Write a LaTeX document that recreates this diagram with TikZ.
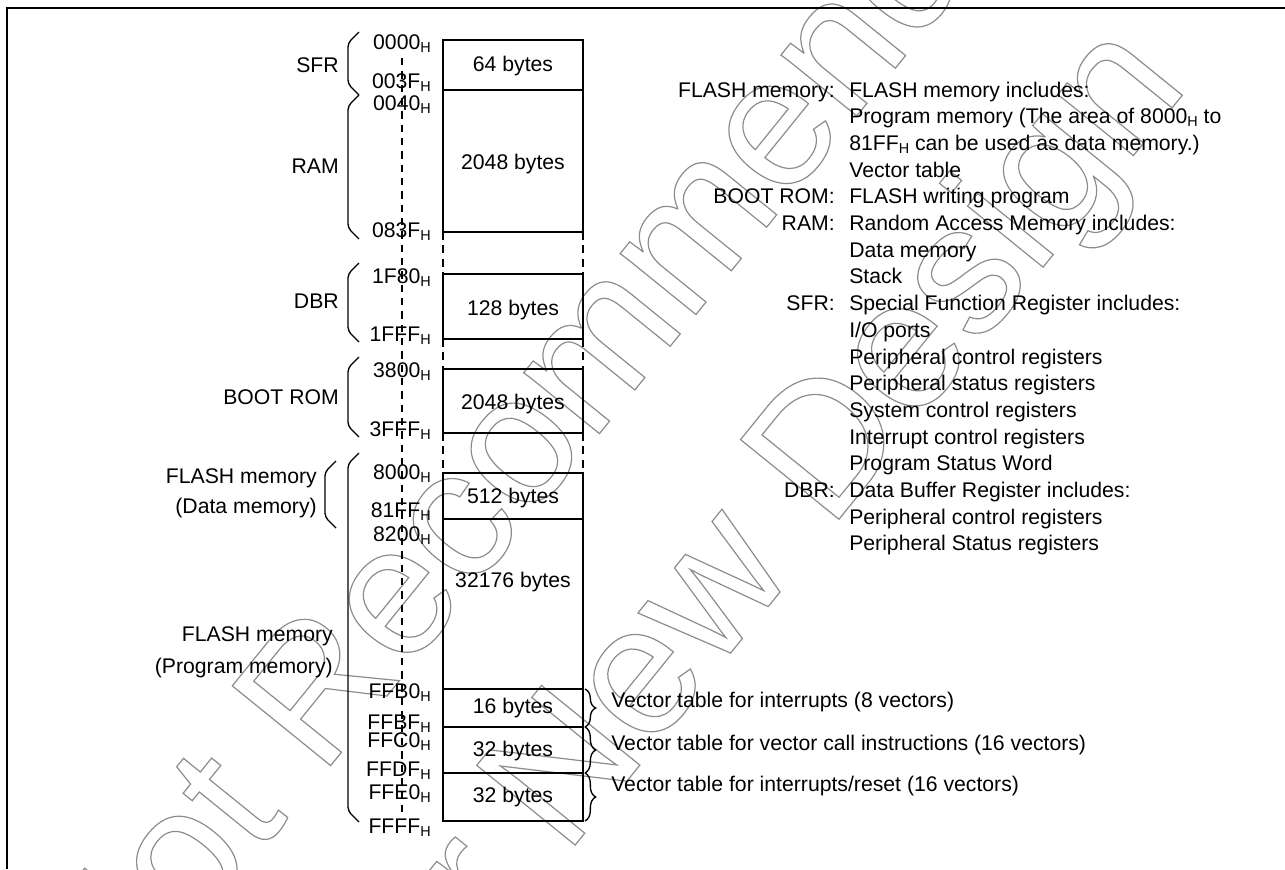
\documentclass[tikz,border=0pt]{standalone}
\usepackage{fontspec}
\setmainfont{Liberation Sans}
\usetikzlibrary{decorations.pathreplacing}
\newcommand{\hx}{\raisebox{-2.2pt}{\fontsize{10.8pt}{10.8pt}\selectfont H}}
\newcommand{\lbrk}[3]{\draw[brk] (#1+11,#2) -- (#1,#2+11) -- (#1,#3-11) -- (#1+11,#3);}
\begin{document}
\begin{tikzpicture}[x=0.75pt,y=-0.75pt,
  font=\fontsize{15.9pt}{19pt}\selectfont,
  frame/.style={line width=1.4pt},
  mem/.style={line width=1.3pt},
  sidedash/.style={line width=1pt,dash pattern=on 6pt off 4pt},
  addrdash/.style={line width=1pt,dash pattern=on 5.5pt off 4.5pt},
  brk/.style={line width=1pt,rounded corners=3pt},
  rbrace/.style={line width=1pt,decorate,decoration={brace,amplitude=8pt}},
  addr/.style={anchor=base east,inner sep=0pt},
  lab/.style={anchor=base east,inner sep=0pt},
  desc/.style={anchor=base west,inner sep=0pt},
  size/.style={inner sep=0pt},
  wmark/.style={rotate=51,align=center,inner sep=0pt,text=black!45,
    font=\fontsize{138pt}{180pt}\selectfont}]
\useasboundingbox (0,0) rectangle (1285,869);

% watermark (outlined text)
\node[wmark] (wm) at (664,469) {\special{pdf:literal direct 1 Tr 0.9 w}Not Recommended\\for New Design\special{pdf:literal direct 0 Tr}};

% frame
\draw[frame] (7,869) -- (7,8) -- (1285,8);

% address dashed line
\coordinate (atop) at (402,58);
\coordinate (abot) at (402,815);
\draw[addrdash] (atop) -- (abot);

% memory blocks
\draw[mem] (443,40) rectangle (583,90);
\draw[mem] (443,90) rectangle (583,232);
\draw[mem] (443,274) rectangle (583,339);
\draw[mem] (443,369) rectangle (583,433);
\draw[mem] (443,473) rectangle (583,519);
\draw[mem] (443,519) rectangle (583,689);
\draw[mem] (443,689) rectangle (583,727);
\draw[mem] (443,727) rectangle (583,773);
\draw[mem] (443,773) rectangle (583,821);

% dashed gaps
\draw[sidedash] (443,232) -- (443,274) (583,232) -- (583,274);
\draw[sidedash] (443,339) -- (443,369) (583,339) -- (583,369);
\draw[sidedash] (443,433) -- (443,473) (583,433) -- (583,473);

% sizes
\node[size] (s1) at (513,66) {64 bytes};
\node[size] (s2) at (513,164) {2048 bytes};
\node[size] (s3) at (513,310) {128 bytes};
\node[size] (s4) at (513,404) {2048 bytes};
\node[size] (s5) at (513,498) {512 bytes};
\node[size] (s6) at (513,582) {32176 bytes};
\node[size] (s7) at (513,708) {16 bytes};
\node[size] (s8) at (513,751) {32 bytes};
\node[size] (s9) at (513,797) {32 bytes};

% addresses
\node[addr] (a1) at (431,49.5) {0000\hx};
\node[addr] (a2) at (431,88.5) {003F\hx};
\node[addr] (a3) at (431,110.5) {0040\hx};
\node[addr] (a4) at (431,237.5) {083F\hx};
\node[addr] (a5) at (431,283.5) {1F80\hx};
\node[addr] (a6) at (431,341.5) {1FFF\hx};
\node[addr] (a7) at (431,377.5) {3800\hx};
\node[addr] (a8) at (431,436.5) {3FFF\hx};
\node[addr] (a9) at (431,479.5) {8000\hx};
\node[addr] (a10) at (431,517.5) {81FF\hx};
\node[addr] (a11) at (431,541.5) {8200\hx};
\node[addr] (a12) at (431,698.5) {FFB0\hx};
\node[addr] (a13) at (431,729.5) {FFBF\hx};
\node[addr] (a14) at (431,747.5) {FFC0\hx};
\node[addr] (a15) at (431,776.5) {FFDF\hx};
\node[addr] (a16) at (431,799.5) {FFE0\hx};
\node[addr] (a17) at (431,833.5) {FFFF\hx};

% left brackets
\lbrk{348}{32}{95}
\lbrk{348}{95}{239}
\lbrk{348}{263}{342}
\lbrk{348}{357}{437}
\lbrk{348}{453}{822}
\lbrk{325}{461}{528}

% left labels
\node[lab] (l1) at (339,72) {SFR};
\node[lab] (l2) at (339,173) {RAM};
\node[lab] (l3) at (339,308) {DBR};
\node[lab] (l4) at (339,404) {BOOT ROM};
\node[lab] (l5) at (317,483) {FLASH memory};
\node[lab] (l6) at (317,513) {(Data memory)};
\node[lab] (l7) at (333,641) {FLASH memory};
\node[lab] (l8) at (333,673) {(Program memory)};

% right braces
\coordinate (v1t) at (585,689); \coordinate (v1b) at (585,727);
\coordinate (v2t) at (585,727); \coordinate (v2b) at (585,773);
\coordinate (v3t) at (585,773); \coordinate (v3b) at (585,821);
\draw[rbrace] (v1t) -- (v1b);
\draw[rbrace] (v2t) -- (v2b);
\draw[rbrace] (v3t) -- (v3b);
\node[desc] (vt1) at (611,707) {Vector table for interrupts (8 vectors)};
\node[desc] (vt2) at (611,750) {Vector table for vector call instructions (16 vectors)};
\node[desc] (vt3) at (611,791) {Vector table for interrupts/reset (16 vectors)};

% right column legend
\node[lab] (k0) at (835,97) {FLASH memory:};
\node[lab] (k4) at (835,203.8) {BOOT ROM:};
\node[lab] (k5) at (835,230.5) {RAM:};
\node[lab] (k8) at (835,310.6) {SFR:};
\node[lab] (k15) at (835,497.5) {DBR:};
\node[desc] (d0) at (849,97) {FLASH memory includes:};
\node[desc] (d1) at (849,123.7) {Program memory (The area of 8000\hx{} to};
\node[desc] (d2) at (849,150.4) {81FF\hx{} can be used as data memory.)};
\node[desc] (d3) at (849,177.1) {Vector table};
\node[desc] (d4) at (849,203.8) {FLASH writing program};
\node[desc] (d5) at (849,230.5) {Random Access Memory includes:};
\node[desc] (d6) at (849,257.2) {Data memory};
\node[desc] (d7) at (849,283.9) {Stack};
\node[desc] (d8) at (849,310.6) {Special Function Register includes:};
\node[desc] (d9) at (849,337.3) {I/O ports};
\node[desc] (d10) at (849,364) {Peripheral control registers};
\node[desc] (d11) at (849,390.7) {Peripheral status registers};
\node[desc] (d12) at (849,417.4) {System control registers};
\node[desc] (d13) at (849,444.1) {Interrupt control registers};
\node[desc] (d14) at (849,470.8) {Program Status Word};
\node[desc] (d15) at (849,497.5) {Data Buffer Register includes:};
\node[desc] (d16) at (849,524.2) {Peripheral control registers};
\node[desc] (d17) at (849,550.9) {Peripheral Status registers};
\end{tikzpicture}
\end{document}
